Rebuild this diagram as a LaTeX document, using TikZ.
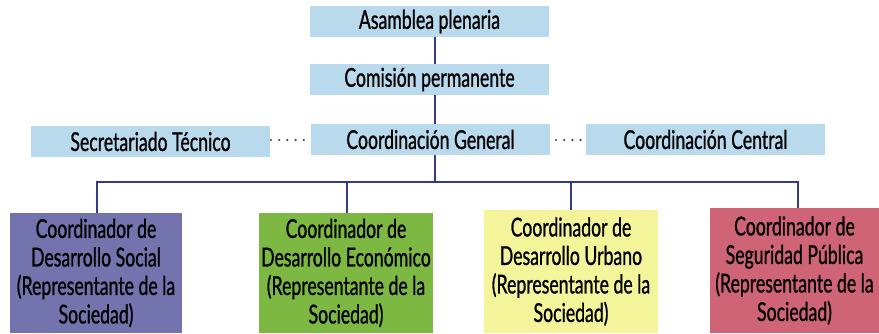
\documentclass[tikz,border=0pt]{standalone}
\usepackage{fontspec}
\setmainfont{Lato}[FakeStretch=0.68,FakeBold=0.9]
\definecolor{boxblue}{HTML}{B9DAEC}
\definecolor{linenavy}{HTML}{353C86}
\definecolor{cpurple}{HTML}{7373AE}
\definecolor{cgreen}{HTML}{7CB842}
\definecolor{cyellow}{HTML}{F4F49A}
\definecolor{cred}{HTML}{CF6477}
\tikzset{
  topbox/.style={fill=boxblue, draw=none, inner sep=0pt, minimum width=239pt, minimum height=31pt, font=\fontsize{26}{28}\selectfont},
  botbox/.style={draw=none, inner sep=0pt, align=center, font=\fontsize{26}{28.5}\selectfont},
  conn/.style={draw=linenavy, line width=2pt},
  dotconn/.style={draw=linenavy, line width=2.4pt, line cap=round, dash pattern=on 0pt off 8.2pt}
}
\begin{document}
\begin{tikzpicture}[x=1pt,y=-1pt]
\useasboundingbox (0,0) rectangle (879,333);
% connectors first (behind boxes)
\coordinate (top) at (435,21);
\coordinate (bus) at (435,182);
\coordinate (busL) at (97,182);
\coordinate (busR) at (798,182);
\coordinate (d1) at (97,214);
\coordinate (d2) at (347,214);
\coordinate (d3) at (571,211);
\coordinate (d4) at (798,209);
\coordinate (j2) at (347,182);
\coordinate (j3) at (571,182);
\draw[conn] (top) -- (bus);
\draw[conn] (d1) -- (busL) -- (busR) -- (d4);
\draw[conn] (j2) -- (d2);
\draw[conn] (j3) -- (d3);
% top boxes
\node[topbox] (asam) at (429.5,21.5) {Asamblea plenaria};
\node[topbox] (comi) at (429.5,79.5) {Comisión permanente};
\node[topbox] (cgen) at (430.5,139.5) {Coordinación General};
\node[topbox] (secr) at (150.5,141.5) {Secretariado Técnico};
\node[topbox] (ccen) at (705.5,139.5) {Coordinación Central};
% dotted links
\coordinate (s1) at (271,140);
\coordinate (s2) at (305,140);
\coordinate (c1) at (556,140);
\coordinate (c2) at (581,140);
\draw[dotconn] (s1) -- (s2);
\draw[dotconn] (c1) -- (c2);
% bottom boxes
\node[botbox, fill=cpurple, minimum width=172pt, minimum height=120pt] (b1) at (96,273)
  {Coordinador de\\Desarrollo Social\\(Representante de la\\Sociedad)};
\node[botbox, fill=cgreen, minimum width=174pt, minimum height=120pt] (b2) at (346,273)
  {Coordinador de\\Desarrollo Económico\\(Representante de la\\Sociedad)};
\node[botbox, fill=cyellow, minimum width=174pt, minimum height=123pt] (b3) at (571,271.5)
  {Coordinador de\\Desarrollo Urbano\\(Representante de la\\Sociedad)};
\node[botbox, fill=cred, minimum width=169pt, minimum height=125pt] (b4) at (794.5,270.5)
  {Coordinador de\\Seguridad Pública\\(Representante de la\\Sociedad)};
\end{tikzpicture}
\end{document}
